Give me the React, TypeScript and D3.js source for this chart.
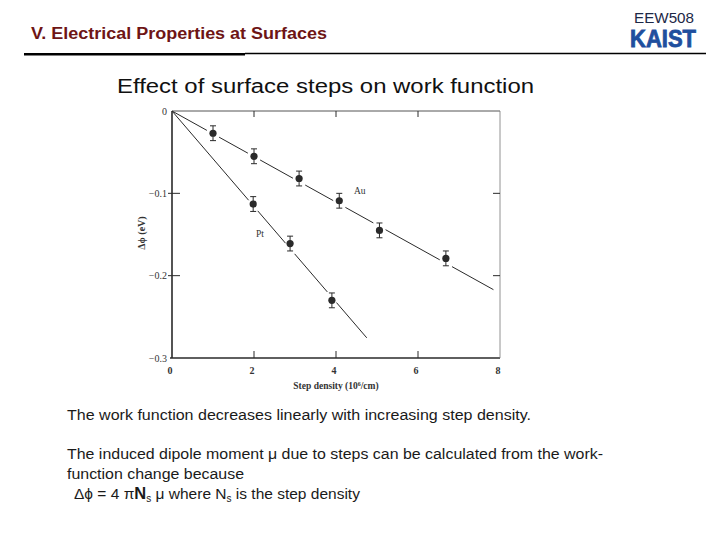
import React from "react";
import * as d3 from "d3";

const auX = [1.0, 2.0, 3.1, 4.08, 5.06, 6.68];
const auY = [-0.027, -0.055, -0.082, -0.109, -0.145, -0.179];
const auErr = [0.009, 0.009, 0.009, 0.009, 0.009, 0.009];
const ptX = [1.98, 2.88, 3.9];
const ptY = [-0.113, -0.161, -0.23];
const ptErr = [0.009, 0.009, 0.009];
const auFitEnd = [7.84, -0.217];
const ptFitEnd = [4.75, -0.2755];
const xTicks = [0, 2, 4, 6, 8];
const yTicks = [0, -0.1, -0.2, -0.3];
const yTickLabels = ["0", "\u22120.1", "\u22120.2", "\u22120.3"];

const ink = "#2a2a2a";

function fitSegments(
  xs: number[],
  end: number[],
  x: d3.ScaleLinear<number, number>,
  y: d3.ScaleLinear<number, number>,
  gap: number
) {
  const slope = end[1] / end[0];
  const x0 = x(0), y0 = y(0), x1 = x(end[0]), y1 = y(end[1]);
  const len = Math.hypot(x1 - x0, y1 - y0);
  const ux = (x1 - x0) / len, uy = (y1 - y0) / len;
  const breaks = xs.map((v) => {
    const px = x(v), py = y(slope * v);
    return Math.hypot(px - x0, py - y0);
  });
  const segs: [number, number][] = [];
  let s = 0;
  breaks.forEach((b) => {
    segs.push([s, b - gap]);
    s = b + gap;
  });
  segs.push([s, len]);
  return segs.map(([a, b], i) => (
    <line key={i} x1={x0 + ux * a} y1={y0 + uy * a} x2={x0 + ux * b} y2={y0 + uy * b}
      stroke={ink} strokeWidth={1} />
  ));
}

function Series({ xs, ys, errs, x, y }: any) {
  return (
    <g>
      {xs.map((v: number, i: number) => {
        const cx = x(v), cy = y(ys[i]);
        const t = y(ys[i] + errs[i]), b = y(ys[i] - errs[i]);
        return (
          <g key={i}>
            <line x1={cx} x2={cx} y1={t} y2={b} stroke={ink} strokeWidth={1} />
            <line x1={cx - 3} x2={cx + 3} y1={t} y2={t} stroke={ink} strokeWidth={1} />
            <line x1={cx - 3} x2={cx + 3} y1={b} y2={b} stroke={ink} strokeWidth={1} />
            <circle cx={cx} cy={cy} r={3.6} fill={ink} />
          </g>
        );
      })}
    </g>
  );
}

export default function App() {
  const x = d3.scaleLinear().domain([0, 8]).range([172, 500]);
  const y = d3.scaleLinear().domain([-0.3, 0]).range([358, 111]);
  const serif = "'Liberation Serif', 'DejaVu Serif', serif";
  const sans = "'Liberation Sans', Arial, sans-serif";
  return (
    <svg width={720} height={540} style={{ position: "absolute", left: 0, top: 0 }}>
      <rect width={720} height={540} fill="#ffffff" />
      {/* header */}
      <text x={31} y={39} fontFamily={sans} fontWeight="bold" fontSize={16} fill="#6e1515"
        textLength={296} lengthAdjust="spacingAndGlyphs">V. Electrical Properties at Surfaces</text>
      <line x1={24} x2={245} y1={54.3} y2={54.3} stroke="#000" strokeWidth={2.6} />
      <line x1={245} x2={706} y1={53.5} y2={53.5} stroke="#000" strokeWidth={1.6} />
      <text x={664} y={23} textAnchor="middle" fontFamily={sans} fontSize={14} fill="#1d2847"
        textLength={60} lengthAdjust="spacingAndGlyphs">EEW508</text>
      <text x={630} y={47} fontFamily={sans} fontWeight="900" fontSize={23} fill="#1f4f9e"
        stroke="#1f4f9e" strokeWidth={0.8}
        textLength={66} lengthAdjust="spacingAndGlyphs">KAIST</text>

      <text x={117} y={93} fontFamily={sans} fontSize={20} fill="#111"
        textLength={417} lengthAdjust="spacingAndGlyphs">Effect of surface steps on work function</text>

      {/* chart frame */}
      <g>
        <line x1={x(0)} x2={x(0)} y1={y(0)} y2={y(-0.3)} stroke={ink} strokeWidth={1.6} />
        <line x1={x(0) - 2} x2={x(8)} y1={y(-0.3)} y2={y(-0.3)} stroke={ink} strokeWidth={1.6} />
        <line x1={x(0)} x2={x(8)} y1={y(0)} y2={y(0)} stroke="#555" strokeWidth={1} />
        <line x1={x(8)} x2={x(8)} y1={y(0)} y2={y(-0.3)} stroke="#777" strokeWidth={0.8} />
        {xTicks.slice(1, -1).map((t) => (
          <g key={t}>
            <line x1={x(t)} x2={x(t)} y1={y(0)} y2={y(0) + 6} stroke={ink} strokeWidth={1} />
            <line x1={x(t)} x2={x(t)} y1={y(-0.3)} y2={y(-0.3) - 7} stroke={ink} strokeWidth={1} />
          </g>
        ))}
        {yTicks.slice(1, -1).map((t) => (
          <g key={t}>
            <line x1={x(0) - 4} x2={x(0) + 8} y1={y(t)} y2={y(t)} stroke={ink} strokeWidth={1} />
            <line x1={x(8)} x2={x(8) - 7} y1={y(t)} y2={y(t)} stroke={ink} strokeWidth={1} />
          </g>
        ))}
        {xTicks.map((t) => (
          <text key={t} x={x(t) - 2} y={374} textAnchor="middle" fontFamily={serif}
            fontWeight="bold" fontSize={10} fill="#333">{t}</text>
        ))}
        {yTicks.map((t, i) => (
          <text key={t} x={x(0) - 5} y={y(t) + 3.5} textAnchor="end" fontFamily={serif}
            fontSize={10} fill="#333">{yTickLabels[i]}</text>
        ))}
        <text x={336} y={389} textAnchor="middle" fontFamily={serif} fontWeight="bold"
          fontSize={9.5} fill="#333">Step density (10<tspan dy={-3} fontSize={6}>6</tspan><tspan dy={3}>/cm)</tspan></text>
        <text transform="translate(145,233) rotate(-90)" textAnchor="middle" fontFamily={serif}
          fontWeight="bold" fontSize={10} fill="#333">{"\u0394\u03d5 (eV)"}</text>

        {fitSegments(auX, auFitEnd, x, y, 7)}
        {fitSegments(ptX, ptFitEnd, x, y, 7)}
        <Series xs={auX} ys={auY} errs={auErr} x={x} y={y} />
        <Series xs={ptX} ys={ptY} errs={ptErr} x={x} y={y} />
        <text x={354} y={194} fontFamily={serif} fontSize={9.5} fill="#333">Au</text>
        <text x={256} y={237} fontFamily={serif} fontSize={9.5} fill="#333">Pt</text>
      </g>

      {/* body text */}
      <g fontFamily={sans} fontSize={15.5} fill="#1a1a1a">
        <text x={67} y={420} textLength={464} lengthAdjust="spacingAndGlyphs">The work function decreases linearly with increasing step density.</text>
        <text x={67} y={459} textLength={536} lengthAdjust="spacingAndGlyphs">The induced dipole moment {"\u03bc"} due to steps can be calculated from the work-</text>
        <text x={67} y={479} textLength={177} lengthAdjust="spacingAndGlyphs">function change because</text>
        <text x={74} y={499}>{"\u0394\u03d5 = 4 \u03c0"}<tspan fontWeight="bold" fontSize={16.5}>N</tspan><tspan fontSize={10} dy={3}>s</tspan><tspan dy={-3}>{" \u03bc where N"}</tspan><tspan fontSize={10} dy={3}>s</tspan><tspan dy={-3}> is the step density</tspan></text>
      </g>
    </svg>
  );
}
